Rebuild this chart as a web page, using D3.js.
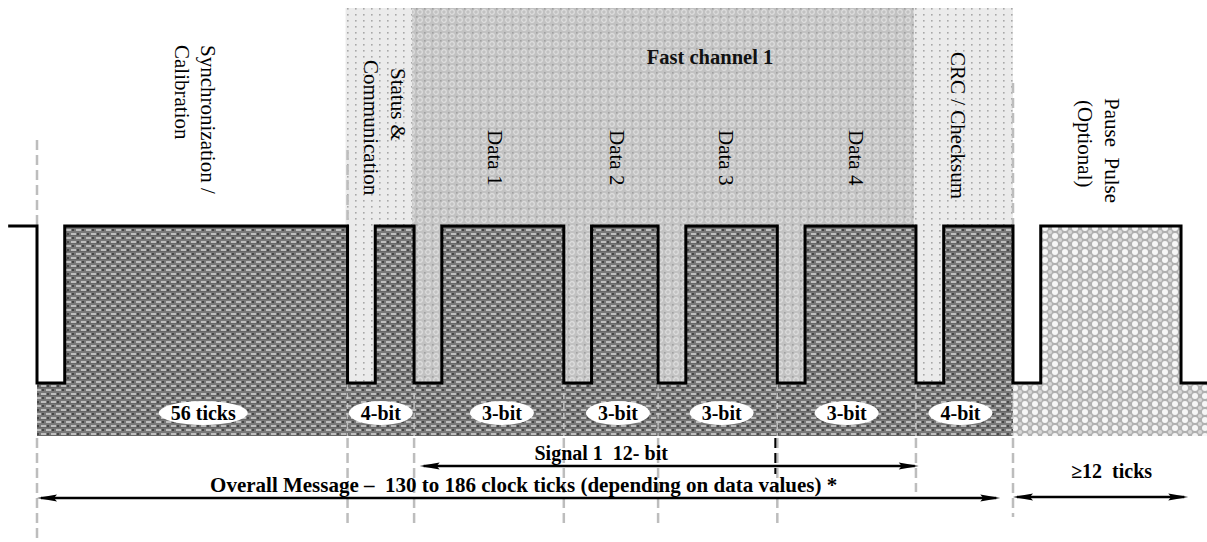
<!DOCTYPE html>
<html><head><meta charset="utf-8">
<script src="https://cdn.jsdelivr.net/npm/d3@7"></script>
<style>html,body{margin:0;padding:0;background:#fff;} svg{display:block;} text{white-space:pre;}</style>
</head><body>
<svg id="c" width="1207" height="542"></svg>
<script>
// ---------------- data ----------------
const segmentNames = ["Synchronization / Calibration", "Status & Communication", "Data 1", "Data 2", "Data 3", "Data 4", "CRC / Checksum", "Pause Pulse (Optional)"];
const segmentLines = [["Synchronization /", "Calibration"], ["Status &", "Communication"], ["Data 1"], ["Data 2"], ["Data 3"], ["Data 4"], ["CRC / Checksum"], ["Pause  Pulse", "(Optional)"]];
const segmentTicks = [56, 12, 27, 17, 21.5, 25, 17.5, 30.3];
const nibbleLabels = ["56 ticks", "4-bit", "3-bit", "3-bit", "3-bit", "3-bit", "4-bit", ""];
const lowPulseTicks = 5;
const idleBeforeTicks = 5.2;
const idleAfterTicks = 4.7;
const panelNames = ["", "Fast channel 1", ""];
const panelFirstSegment = [1, 2, 6];
const panelLastSegment = [1, 5, 6];
const spanLabels = ["Signal 1  12- bit", "Overall Message \u2013  130 to 186 clock ticks (depending on data values) *", "\u226512  ticks"];
const spanStartTicks = [69, 0, 176];
const spanEndTicks = [159, 173.7, 207.6];

// ---------------- layout ----------------
const W = 1207, H = 542;
const L = {
  x0: 37, x1: 1013, tickRef: 176,
  yHigh: 226, yLow: 383, bandBottom: 436, panelTop: 8,
  labelShift: [3, 4, 6, 6, 9, 10, -6, 2],
  labelTop: [[45, 45], [68, 60], [130], [130], [130], [130], [52], [98, 100]],
  lineGap: 26.5,
  nibbleShift: [11, 0, 13, 7, 4, 0, -4, 0],
  nibbleY: 413,
  dashTop: [140, 150, null, null, null, null, null, 83],
  dashBottom: [542, 528, 528, 525, 527, 527, 492, 517],
  spanY: [466, 498, 497], spanTextY: [460, 492, 478], spanTextShift: [-68, 5, 11],
  fastLabelShift: 46, fastLabelY: 64
};
const serif = "'Liberation Serif','Times New Roman',Times,serif";

const svg = d3.select("#c");
const x = d3.scaleLinear().domain([0, L.tickRef]).range([L.x0, L.x1]);
const y = d3.scaleLinear().domain([0, 1]).range([L.yLow, L.yHigh]);

// boundaries
const bounds = [0];
segmentTicks.forEach(t => bounds.push(bounds[bounds.length - 1] + t));

// ---------------- patterns ----------------
const defs = svg.append("defs");
// dark weave
const pw = defs.append("pattern").attr("id", "weave").attr("patternUnits", "userSpaceOnUse").attr("width", 10).attr("height", 8);
pw.append("rect").attr("width", 10).attr("height", 8).attr("fill", "#787878");
[[1,1,5,2,"#bdbdbd"],[6,5,4,2,"#bdbdbd"],[0,5,1,2,"#bdbdbd"],[7,1,2,2,"#474747"],[2,5,2,2,"#474747"],[0,3,10,1,"#666"]].forEach(r =>
  pw.append("rect").attr("x", r[0]).attr("y", r[1]).attr("width", r[2]).attr("height", r[3]).attr("fill", r[4]));
// pause dots
const pd = defs.append("pattern").attr("id", "dots").attr("patternUnits", "userSpaceOnUse").attr("width", 10).attr("height", 8);
pd.append("rect").attr("width", 10).attr("height", 8).attr("fill", "#b0b0b0");
pd.append("circle").attr("cx", 5).attr("cy", 4).attr("r", 3).attr("fill", "#f6f6f6");
[[0,0],[10,0],[0,8],[10,8]].forEach(c => pd.append("circle").attr("cx", c[0]).attr("cy", c[1]).attr("r", 2).attr("fill", "#d8d8d8"));
// light dotted panel
const pl = defs.append("pattern").attr("id", "lightdots").attr("patternUnits", "userSpaceOnUse").attr("width", 8).attr("height", 6);
pl.append("rect").attr("width", 8).attr("height", 6).attr("fill", "#ebebeb");
pl.append("rect").attr("x", 3).attr("y", 2).attr("width", 1.6).attr("height", 1.6).attr("fill", "#a8a8a8");
// fast channel
const pf = defs.append("pattern").attr("id", "fast").attr("patternUnits", "userSpaceOnUse").attr("width", 8).attr("height", 8);
pf.append("rect").attr("width", 8).attr("height", 8).attr("fill", "#c2c2c2");
pf.append("circle").attr("cx", 4).attr("cy", 4).attr("r", 2.3).attr("fill", "none").attr("stroke", "#dedede").attr("stroke-width", 1.2);
pf.append("rect").attr("x", 0).attr("y", 0).attr("width", 1.6).attr("height", 1.6).attr("fill", "#a0a0a0");

// ---------------- panels ----------------
const panelFills = ["url(#lightdots)", "url(#fast)", "url(#lightdots)"];
panelNames.forEach((name, i) => {
  const xa = x(bounds[panelFirstSegment[i]]) - 2, xb = x(bounds[panelLastSegment[i] + 1]);
  svg.append("rect").attr("x", xa).attr("y", L.panelTop).attr("width", xb - xa).attr("height", L.yLow - L.panelTop)
    .attr("fill", panelFills[i]);
  if (name) {
    svg.append("text").attr("x", (xa + xb) / 2 + L.fastLabelShift).attr("y", L.fastLabelY)
      .attr("text-anchor", "middle").attr("font-family", serif).attr("font-weight", "bold").attr("font-size", 20.5)
      .attr("fill", "#111").text(name);
  }
});

// ---------------- dashed guide lines ----------------
bounds.slice(0, 8).forEach((b, i) => {
  const gx = x(b);
  if (L.dashTop[i] !== null) {
    svg.append("line").attr("x1", gx).attr("x2", gx).attr("y1", L.dashTop[i]).attr("y2", L.yHigh)
      .attr("stroke", "#bdbdbd").attr("stroke-width", 2.5).attr("stroke-dasharray", "10,5");
  }
  svg.append("line").attr("x1", gx).attr("x2", gx).attr("y1", L.bandBottom + 2).attr("y2", L.dashBottom[i])
    .attr("stroke", "#bdbdbd").attr("stroke-width", 2.5).attr("stroke-dasharray", "10,5");
});

// ---------------- filled areas ----------------
const area = d3.area().x(d => x(d[0])).y0(L.bandBottom).y1(d => y(d[1])).curve(d3.curveStepAfter);
const darkPts = [];
for (let i = 0; i < 7; i++) { darkPts.push([bounds[i], 0], [bounds[i] + lowPulseTicks, 1]); }
darkPts.push([bounds[7], 1]);
svg.append("path").attr("d", area(darkPts)).attr("fill", "url(#weave)");
const pausePts = [[bounds[7], 0], [bounds[7] + lowPulseTicks, 1], [bounds[8], 0], [bounds[8] + idleAfterTicks, 0]];
svg.append("path").attr("d", area(pausePts)).attr("fill", "url(#dots)");

// faint separators inside band
bounds.slice(1, 8).forEach(b => {
  svg.append("line").attr("x1", x(b)).attr("x2", x(b)).attr("y1", L.yLow).attr("y2", L.bandBottom)
    .attr("stroke", "#d0d0d0").attr("stroke-width", 1.5).attr("stroke-dasharray", "6,4").attr("opacity", 0.8);
});

// ---------------- signal ----------------
const sig = [[-idleBeforeTicks, 1]];
for (let i = 0; i < 8; i++) sig.push([bounds[i], 0], [bounds[i] + lowPulseTicks, 1]);
sig.push([bounds[8], 0], [bounds[8] + idleAfterTicks, 0]);
const line = d3.line().x(d => x(d[0])).y(d => y(d[1])).curve(d3.curveStepAfter);
svg.append("path").attr("d", line(sig)).attr("fill", "none").attr("stroke", "#000").attr("stroke-width", 3)
  .attr("stroke-linejoin", "miter");

// ---------------- rotated segment labels ----------------
segmentLines.forEach((lines, i) => {
  const cx = x((bounds[i] + bounds[i + 1]) / 2) + L.labelShift[i];
  const n = lines.length;
  lines.forEach((t, j) => {
    const lx = cx + ((n - 1) / 2 - j) * L.lineGap;
    svg.append("text").attr("transform", `translate(${lx},${L.labelTop[i][j]}) rotate(90)`)
      .attr("dy", "0.35em").attr("font-family", serif).attr("font-size", 21).attr("fill", "#000").text(t);
  });
});

// ---------------- nibble labels ----------------
nibbleLabels.forEach((t, i) => {
  if (!t) return;
  const cx = x((bounds[i] + bounds[i + 1]) / 2) + L.nibbleShift[i];
  const g = svg.append("g");
  const el = g.append("ellipse").attr("cx", cx).attr("cy", L.nibbleY).attr("ry", 12).attr("fill", "#fff");
  const tx = g.append("text").attr("x", cx).attr("y", L.nibbleY).attr("dy", "0.35em").attr("text-anchor", "middle")
    .attr("font-family", serif).attr("font-weight", "bold").attr("font-size", 20).attr("fill", "#000").text(t);
  el.attr("rx", tx.node().getComputedTextLength() / 2 + 12);
});

// ---------------- spans (arrows) ----------------
function head(px, py, dir) {
  const len = 20, hw = 3.6;
  svg.append("path").attr("d", `M${px},${py} L${px - dir * len},${py - hw} L${px - dir * len * 0.85},${py} L${px - dir * len},${py + hw} Z`).attr("fill", "#000");
}
spanLabels.forEach((t, i) => {
  const xa = x(spanStartTicks[i]), xb = x(spanEndTicks[i]), yy = L.spanY[i];
  svg.append("line").attr("x1", xa + 4).attr("x2", xb - 4).attr("y1", yy).attr("y2", yy).attr("stroke", "#000").attr("stroke-width", 2.5);
  head(xa, yy, -1); head(xb, yy, 1);
  svg.append("text").attr("x", (xa + xb) / 2 + L.spanTextShift[i]).attr("y", L.spanTextY[i]).attr("text-anchor", "middle")
    .attr("font-family", serif).attr("font-weight", "bold").attr("font-size", i === 1 ? 21 : 20).attr("fill", "#000").text(t);
});
// black dashed marker under Data 4 boundary
svg.append("line").attr("x1", x(bounds[5]) - 2).attr("x2", x(bounds[5]) - 2).attr("y1", L.bandBottom + 2).attr("y2", 474)
  .attr("stroke", "#000").attr("stroke-width", 2).attr("stroke-dasharray", "10,5");
</script>
</body></html>
